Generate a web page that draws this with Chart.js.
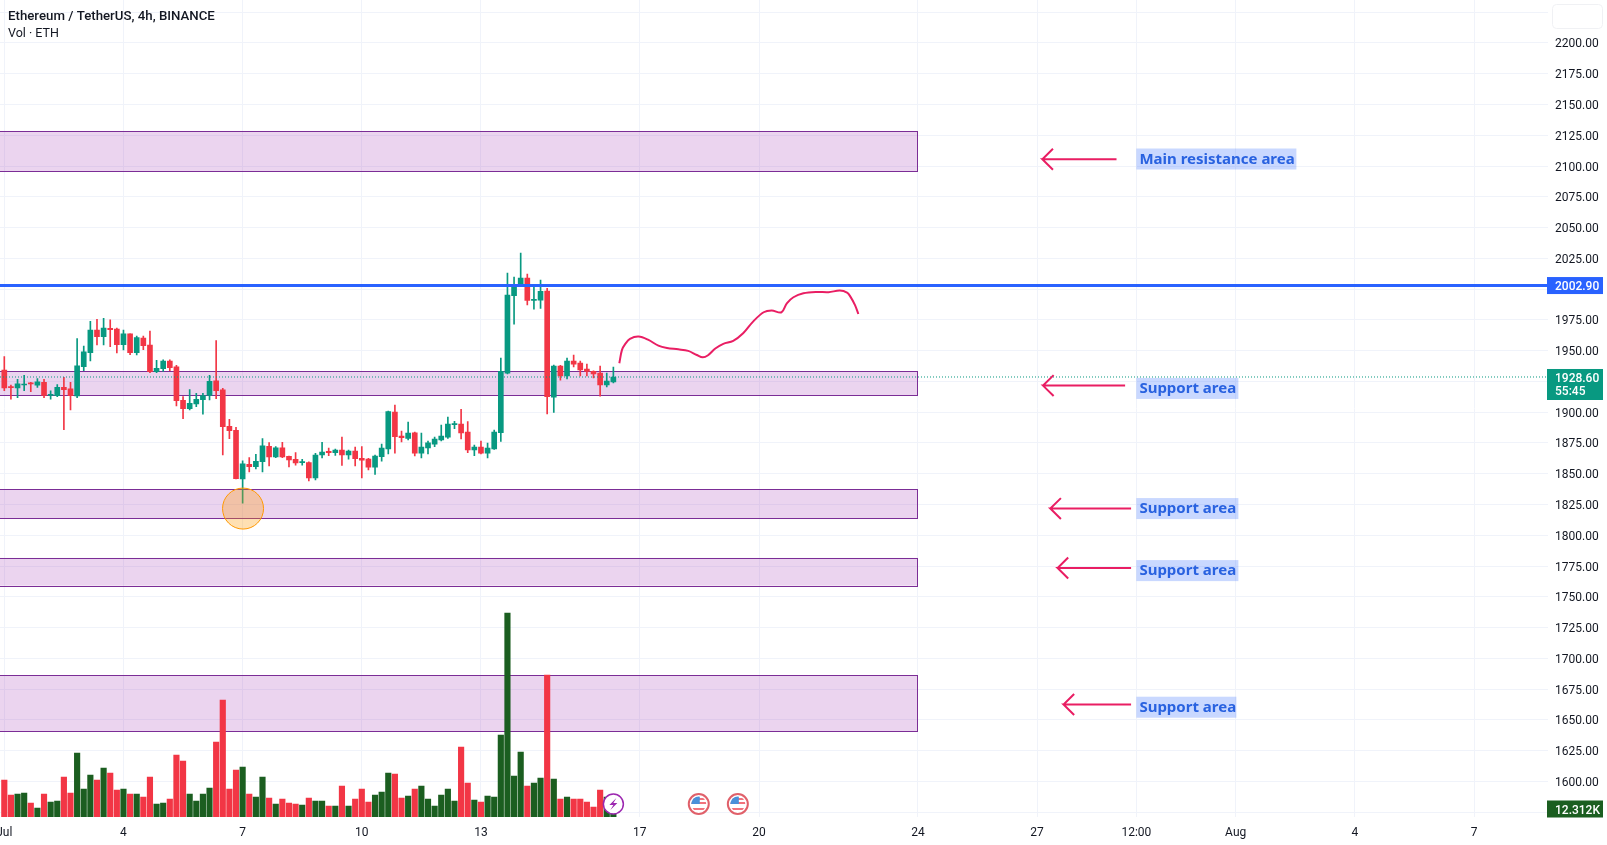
<!DOCTYPE html>
<html>
<head>
<meta charset="utf-8">
<title>ETHUSDT 4h</title>
<script src="https://cdn.jsdelivr.net/npm/chart.js@4/dist/chart.umd.min.js"></script>
<style>
  html, body { margin: 0; padding: 0; background: #ffffff; overflow: hidden; }
  canvas { display: block; }
</style>
</head>
<body>
<canvas id="ethChart" width="1607" height="845"></canvas>
<script>
// 4h candles, index 0 = Jul 1 00:00
const opens = [1934.3,1920.8,1919.7,1922.1,1923.5,1921.9,1924.3,1913.7,1913.5,1920.2,1918.9,1913.2,1937.0,1948.4,1966.8,1961.4,1968.2,1967.6,1954.9,1963.6,1948.4,1960.3,1954.6,1933.0,1935.4,1941.6,1936.8,1909.7,1902.9,1906.7,1910.2,1913.7,1925.4,1918.1,1888.5,1885.3,1845.8,1857.7,1855.8,1859.8,1872.3,1863.6,1871.0,1864.2,1861.7,1859.0,1859.0,1846.6,1865.2,1868.2,1867.1,1869.3,1865.2,1868.5,1862.5,1861.9,1855.4,1863.8,1870.1,1900.1,1880.6,1878.7,1883.3,1866.8,1870.9,1874.1,1877.4,1879.8,1889.9,1890.4,1883.9,1869.3,1871.7,1866.8,1870.1,1883.3,1931.8,1994.7,2002.8,2009.0,1990.9,1991.1,1998.5,1912.3,1937.5,1929.4,1941.6,1939.9,1935.1,1933.2,1931.8,1922.1,1924.5];
const highs = [1945.2,1922.1,1926.7,1930.0,1924.3,1927.3,1926.7,1917.3,1922.4,1928.4,1924.3,1959.8,1953.8,1973.9,1975.5,1976.3,1975.0,1968.4,1966.8,1963.6,1961.9,1961.9,1966.0,1942.2,1942.5,1942.5,1938.1,1912.7,1918.3,1915.4,1915.4,1930.0,1958.2,1919.4,1894.2,1887.7,1860.4,1863.1,1865.8,1878.5,1875.3,1872.0,1875.6,1864.4,1867.2,1861.7,1859.6,1866.6,1875.5,1870.9,1870.1,1879.8,1869.3,1871.7,1872.0,1862.5,1865.2,1874.1,1901.0,1905.8,1884.7,1892.0,1883.9,1883.1,1876.6,1879.8,1889.6,1896.1,1892.6,1902.3,1892.3,1873.3,1876.6,1875.0,1885.5,1944.0,2013.1,2009.8,2029.3,2012.3,2002.5,2007.4,2000.6,1938.3,1938.1,1944.0,1946.5,1941.6,1939.1,1933.7,1937.5,1931.8,1936.7];
const lows = [1917.5,1910.5,1911.8,1917.5,1916.7,1920.2,1911.8,1910.5,1912.7,1885.8,1901.8,1911.8,1933.8,1941.6,1954.6,1954.6,1953.3,1948.1,1950.6,1946.8,1946.5,1950.8,1932.2,1932.2,1933.2,1933.8,1905.1,1894.8,1901.8,1904.5,1898.3,1909.9,1911.0,1865.3,1878.5,1845.8,1826.0,1851.4,1853.9,1851.4,1856.3,1863.1,1863.1,1855.5,1856.9,1856.9,1844.1,1844.9,1862.8,1864.7,1864.9,1856.8,1861.9,1856.3,1846.5,1853.0,1849.5,1860.3,1866.0,1866.8,1875.8,1877.4,1864.4,1862.8,1866.0,1872.0,1876.6,1878.7,1886.6,1878.2,1867.1,1864.7,1866.0,1862.8,1869.8,1876.3,1931.0,1971.6,2002.5,1987.1,1983.8,1984.4,1898.5,1899.9,1926.1,1927.0,1936.7,1929.4,1929.4,1927.8,1913.1,1920.5,1923.7];
const closes = [1919.7,1920.0,1923.0,1922.7,1923.0,1924.6,1913.7,1914.5,1920.2,1918.3,1913.5,1937.6,1949.0,1966.8,1961.4,1968.4,1967.1,1954.9,1963.6,1948.4,1960.6,1954.1,1933.0,1935.7,1941.6,1936.2,1909.4,1902.9,1907.2,1910.5,1913.5,1925.1,1917.5,1888.3,1885.0,1846.0,1858.0,1855.8,1860.1,1872.6,1863.6,1871.0,1863.6,1861.2,1858.8,1859.6,1846.6,1865.2,1867.6,1867.1,1869.3,1865.2,1868.5,1862.2,1861.1,1855.4,1864.4,1870.9,1900.4,1880.1,1879.3,1883.1,1866.8,1871.7,1875.2,1878.2,1880.6,1890.4,1890.4,1883.1,1869.3,1871.7,1866.8,1870.9,1883.9,1933.2,1995.2,2003.3,2009.0,1990.9,1991.7,1998.2,1912.6,1937.5,1929.4,1941.6,1939.1,1934.3,1933.2,1931.0,1922.1,1925.3,1928.6];
// volume in thousands of ETH
const volumes = [56.9,33.9,35.4,36.9,21.5,13.9,35.4,23.1,24.6,61.6,36.9,98.5,43.1,64.6,56.9,75.4,67.7,41.6,43.1,35.4,35.4,30.8,61.6,20.0,21.5,27.7,95.4,86.2,35.4,24.6,35.4,44.6,115.4,180.1,43.1,72.3,77.0,35.4,30.8,61.6,29.2,20.0,27.7,21.5,20.0,18.5,29.2,24.6,24.6,16.9,16.9,47.7,16.9,27.7,43.1,23.1,33.9,38.5,67.7,66.2,29.2,32.3,43.1,47.7,27.7,16.9,33.9,43.1,24.6,107.7,52.3,26.2,23.1,32.3,30.8,126.2,314.0,63.1,100.0,47.7,52.3,60.0,218.5,58.5,27.7,30.8,27.7,27.7,23.1,15.4,41.6,30.8,12.312];

// time axis: candle index and label
const timeTicks = [0,18,36,54,72,96,114,138,156,171,186,204,222];
const timeLabels = ['Jul','4','7','10','13','17','20','24','27','12:00','Aug','4','7'];

const priceTicks = [1575,1600,1625,1650,1675,1700,1725,1750,1775,1800,1825,1850,1875,1900,1925,1950,1975,2000,2025,2050,2075,2100,2125,2150,2175,2200,2225];
const hiddenPriceLabels = [1575,1925,2000,2225];

const resistanceLevel = 2002.9;
const lastPrice = 1928.6;
const lastVolume = 12.312;

// purple areas, [low, high]
const zones = [[2096,2128.5],[1913.7,1933.2],[1813.5,1837.4],[1759.1,1781.6],[1640.7,1686.2]];
const zoneEnd = 138;

// drawn forecast path
const pathX = [92.9,93.3,93.8,94.5,95.8,97.3,98.8,100.1,101.8,103.3,104.6,105.5,106.3,107.4,108.6,110.1,111.6,113.1,114.7,115.9,117.4,118.2,119.2,120.7,122.7,124.5,126.2,127.3,127.8,128.5,129];
const pathY = [1939.8,1950.6,1955.5,1959.5,1961.4,1958.7,1954.1,1952.2,1951.1,1949.8,1946.5,1944.6,1946.3,1951.7,1955.5,1957.9,1964.1,1973.6,1981.2,1982.6,1981.2,1988.5,1993.4,1996.6,1997.7,1997.5,1998.8,1997.2,1993.9,1987,1979.8];

// arrows next to the labels
const arrowTipX = [156.8,156.9,158,159.1,160];
const arrowTailX = [168,169.3,170.2,170.2,170.2];
const arrowY = [2105.5,1921.6,1821.7,1773.4,1662.5];

const noteTexts = ['Main resistance area','Support area','Support area','Support area','Support area'];
const noteWidths = [160,102,102,102,100];
const noteX = 171;
const noteY = [2105.7,1919.3,1821.7,1771.3,1660.3];

const circleX = 36.06;
const circleY = 1821.7;

const eventFlash = 92;
const eventFlags = [104.9,110.8];

const GREEN = '#089981';
const RED = '#f23645';
const VOL_GREEN = '#1b5e20';
const BLUE = '#2962ff';
const PINK = '#e91e63';
const GRID = '#f0f3fa';
const TEXT = '#131722';
const FONT = 'Roboto, sans-serif';

const isUp = closes.map((c, i) => c >= opens[i]);
const candleColors = isUp.map(up => up ? GREEN : RED);
const volumeColors = isUp.map(up => up ? VOL_GREEN : RED);
const xMin = -0.65;
const xMax = 233.1;

function arrowDataset(i) {
  const tip = arrowTipX[i], tail = arrowTailX[i], y = arrowY[i];
  return {
    type: 'line',
    data: [
      {x: tip + 1.6, y: y + 8.5},
      {x: tip, y: y},
      {x: tip + 1.6, y: y - 8.5},
      {x: tip, y: y},
      {x: tail, y: y}
    ],
    borderColor: PINK, borderWidth: 2, pointRadius: 0, order: 1
  };
}

const zonePlugin = {
  id: 'zones',
  beforeDatasetsDraw(chart) {
    const {ctx, scales: {x, y}} = chart;
    const left = x.getPixelForValue(xMin);
    const right = x.getPixelForValue(zoneEnd);
    ctx.save();
    zones.forEach(z => {
      const top = y.getPixelForValue(z[1]);
      const bottom = y.getPixelForValue(z[0]);
      ctx.fillStyle = 'rgba(156,39,176,0.2)';
      ctx.fillRect(left, top, right - left, bottom - top);
      ctx.strokeStyle = '#7b2d96';
      ctx.lineWidth = 1;
      ctx.strokeRect(Math.round(left) - 2.5, Math.round(top) + 0.5, Math.round(right - left) + 2, Math.round(bottom - top));
    });
    ctx.restore();
  }
};

function drawTag(ctx, yMid, h, bg, lines) {
  ctx.fillStyle = bg;
  ctx.fillRect(1547, yMid - h / 2, 56, h);
  ctx.fillStyle = '#ffffff';
  ctx.font = '500 12px ' + FONT;
  ctx.textAlign = 'left';
  ctx.textBaseline = 'middle';
  lines.forEach((t, i) => {
    ctx.fillText(t, 1555, yMid - (lines.length - 1) * 6.5 + i * 13 + 1.5);
  });
}

function drawFlash(ctx, cx, cy) {
  ctx.beginPath();
  ctx.arc(cx, cy, 10, 0, Math.PI * 2);
  ctx.fillStyle = '#ffffff';
  ctx.fill();
  ctx.lineWidth = 1.5;
  ctx.strokeStyle = '#9c27b0';
  ctx.stroke();
  ctx.beginPath();
  ctx.moveTo(cx + 3, cy - 6);
  ctx.lineTo(cx - 4, cy + 1);
  ctx.lineTo(cx, cy + 1);
  ctx.lineTo(cx - 3, cy + 6);
  ctx.lineTo(cx + 4, cy - 1);
  ctx.lineTo(cx, cy - 1);
  ctx.closePath();
  ctx.fillStyle = '#9c27b0';
  ctx.fill();
}

function drawFlag(ctx, cx, cy) {
  ctx.save();
  ctx.beginPath();
  ctx.arc(cx, cy, 10, 0, Math.PI * 2);
  ctx.fillStyle = '#ffffff';
  ctx.fill();
  ctx.lineWidth = 2;
  ctx.strokeStyle = '#e0606a';
  ctx.stroke();
  ctx.beginPath();
  ctx.arc(cx, cy, 7.5, 0, Math.PI * 2);
  ctx.clip();
  ctx.fillStyle = '#f2727c';
  ctx.fillRect(cx - 8, cy - 6, 16, 2);
  ctx.fillRect(cx - 8, cy - 2, 16, 2);
  ctx.fillRect(cx - 8, cy + 4, 16, 2);
  ctx.fillStyle = '#4a90d9';
  ctx.fillRect(cx - 8, cy - 8, 9, 8);
  ctx.restore();
}

const overlayPlugin = {
  id: 'overlay',
  afterDatasetsDraw(chart) {
    const {ctx, scales: {x, y}} = chart;
    ctx.save();

    // notes
    ctx.textBaseline = 'middle';
    ctx.textAlign = 'left';
    noteTexts.forEach((t, i) => {
      const px = x.getPixelForValue(noteX);
      const py = y.getPixelForValue(noteY[i]);
      ctx.fillStyle = 'rgba(41,98,255,0.25)';
      ctx.fillRect(px, py - 10.5, noteWidths[i], 21);
      ctx.fillStyle = '#2962e0';
      ctx.font = 'bold 15px "Noto Sans", sans-serif';
      ctx.fillText(t, px + 3, py + 0.5);
    });

    // events on the time line
    const iconY = 804;
    drawFlash(ctx, x.getPixelForValue(eventFlash), iconY);
    eventFlags.forEach(e => drawFlag(ctx, x.getPixelForValue(e), iconY));

    // legend text
    ctx.fillStyle = TEXT;
    ctx.textBaseline = 'middle';
    ctx.font = '500 13.25px ' + FONT;
    ctx.fillText('Ethereum / TetherUS, 4h, BINANCE', 8, 17);
    ctx.font = '12.5px ' + FONT;
    ctx.fillText('Vol · ETH', 8, 34);
    ctx.restore();
  },
  afterDraw(chart) {
    const {ctx, scales: {y, yVol}} = chart;
    ctx.save();
    drawTag(ctx, y.getPixelForValue(resistanceLevel), 17, BLUE, [resistanceLevel.toFixed(2)]);
    drawTag(ctx, y.getPixelForValue(lastPrice) + 7.5, 31, GREEN, [lastPrice.toFixed(2), '55:45']);
    drawTag(ctx, yVol.getPixelForValue(lastVolume), 17, VOL_GREEN, [lastVolume.toFixed(3) + 'K']);

    // empty button above the price axis
    ctx.strokeStyle = '#f0f1f4';
    ctx.lineWidth = 1;
    ctx.beginPath();
    ctx.roundRect(1552.5, 4.5, 50, 24, 4);
    ctx.stroke();
    ctx.restore();
  }
};

new Chart(document.getElementById('ethChart').getContext('2d'), {
  type: 'bar',
  data: {
    datasets: [
      {
        label: 'Levels',
        type: 'line',
        data: [{x: xMin, y: resistanceLevel}, {x: xMax, y: resistanceLevel}],
        borderColor: BLUE, borderWidth: 3, pointRadius: 0, order: 3
      },
      {
        label: 'Last price',
        type: 'line',
        data: [{x: xMin, y: lastPrice}, {x: xMax, y: lastPrice}],
        borderColor: GREEN, borderWidth: 1, borderDash: [1, 2], pointRadius: 0, order: 4
      },
      {
        label: 'Path',
        type: 'line',
        data: pathX.map((v, i) => ({x: v, y: pathY[i]})),
        borderColor: PINK, borderWidth: 2, pointRadius: 0, tension: 0.35, order: 1
      },
      {
        label: 'Circle',
        type: 'line',
        data: [{x: circleX, y: circleY}],
        showLine: false, pointRadius: 20.5, pointBorderWidth: 1,
        pointBackgroundColor: 'rgba(255,152,0,0.3)', pointBorderColor: '#ff9800', order: 2
      },
      {
        label: 'Body',
        data: opens.map((o, i) => ({x: i, y: [o, closes[i]]})),
        backgroundColor: candleColors,
        barThickness: 5, minBarLength: 1, grouped: false, order: 5
      },
      {
        label: 'Wick',
        data: lows.map((l, i) => ({x: i, y: [l, highs[i]]})),
        backgroundColor: candleColors,
        barThickness: 1, grouped: false, order: 6
      },
      {
        label: 'Volume',
        data: volumes.map((v, i) => ({x: i, y: v})),
        backgroundColor: volumeColors,
        yAxisID: 'yVol',
        barThickness: 5.5, grouped: false, order: 7
      }
    ].concat(arrowY.map((v, i) => arrowDataset(i)))
  },
  options: {
    responsive: false,
    devicePixelRatio: 1,
    animation: false,
    layout: {padding: 0, autoPadding: false},
    plugins: {legend: {display: false}, tooltip: {enabled: false}},
    scales: {
      x: {
        type: 'linear',
        offset: false,
        min: xMin,
        max: xMax,
        afterBuildTicks: scale => { scale.ticks = timeTicks.map(v => ({value: v})); },
        afterFit: scale => { scale.height = 28; scale.paddingLeft = 0; scale.paddingRight = 0; },
        grid: {color: GRID, drawTicks: false, offset: false},
        border: {display: false},
        ticks: {
          autoSkip: false,
          maxRotation: 0,
          padding: 9,
          color: TEXT,
          font: {family: 'Roboto', size: 12},
          callback: value => timeLabels[timeTicks.indexOf(value)]
        }
      },
      y: {
        position: 'right',
        min: 1571.1,
        max: 2234.9,
        afterBuildTicks: scale => { scale.ticks = priceTicks.map(v => ({value: v})); },
        afterFit: scale => { scale.width = 59.5; scale.paddingTop = 0; scale.paddingBottom = 0; },
        grid: {color: GRID, drawTicks: false},
        border: {display: false},
        ticks: {
          autoSkip: false,
          padding: 7.5,
          labelOffset: 1.5,
          color: TEXT,
          font: {family: 'Roboto', size: 12},
          callback: value => hiddenPriceLabels.includes(value) ? '' : value.toFixed(2)
        }
      },
      yVol: {
        display: false,
        min: 0,
        max: 1257.4
      }
    }
  },
  plugins: [zonePlugin, overlayPlugin]
});
</script>
</body>
</html>
